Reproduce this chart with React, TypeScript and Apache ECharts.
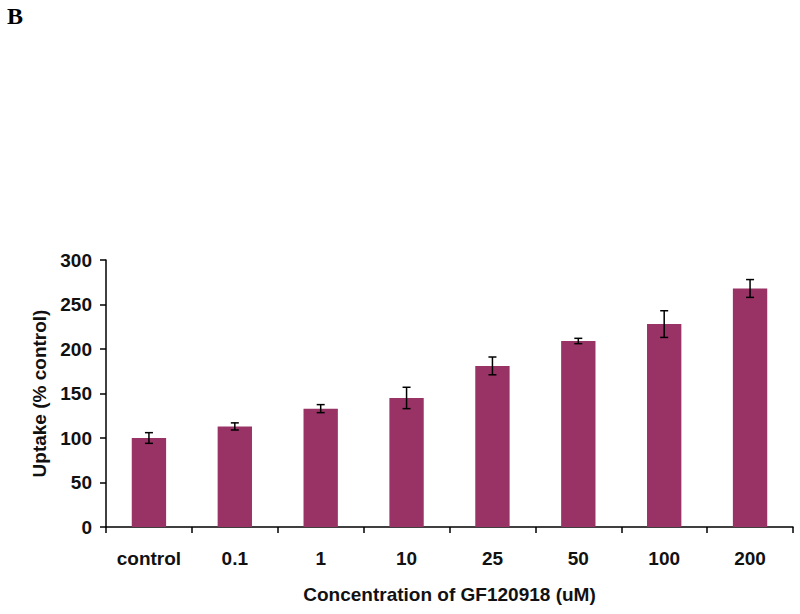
import React, { useEffect, useRef } from "react";
import * as echarts from "echarts";

const categories = ["control", "0.1", "1", "10", "25", "50", "100", "200"];
const uptake = [100, 113, 133, 145, 181, 209, 228, 268];
const errors = [6, 4, 4.5, 12, 10, 3, 15, 10];
const yTicks = { min: 0, max: 300, interval: 50 };

export default function App() {
  const ref = useRef<HTMLDivElement>(null);
  useEffect(() => {
    if (!ref.current) return;
    const chart = echarts.init(ref.current, null, { renderer: "svg" });
    const font = "'Liberation Sans', Arial, sans-serif";
    const txt = { fontFamily: font, fontWeight: "bold", fontSize: 19, color: "#111" };
    chart.setOption({
      animation: false,
      backgroundColor: "#ffffff",
      graphic: [
        {
          type: "text",
          left: 7,
          top: 4,
          style: { text: "B", font: "bold 24px 'Liberation Serif', 'Times New Roman', serif", fill: "#000" },
        },
      ],
      grid: { left: 106, right: 7, top: 260, bottom: 87, containLabel: false },
      xAxis: {
        type: "category",
        data: categories,
        name: "Concentration of GF120918 (uM)",
        nameLocation: "middle",
        nameGap: 58,
        nameTextStyle: txt,
        axisLine: { lineStyle: { color: "#000", width: 1.5 } },
        axisTick: { show: true, length: 6, lineStyle: { color: "#000", width: 1.5 } },
        axisLabel: { margin: 22, ...txt },
      },
      yAxis: {
        type: "value",
        min: yTicks.min,
        max: yTicks.max,
        interval: yTicks.interval,
        name: "Uptake (% control)",
        nameLocation: "middle",
        nameGap: 52,
        nameTextStyle: txt,
        axisLine: { show: true, lineStyle: { color: "#000", width: 1.5 } },
        axisTick: { show: true, length: 6, lineStyle: { color: "#000", width: 1.5 } },
        splitLine: { show: false },
        axisLabel: { margin: 14, ...txt },
      },
      series: [
        {
          type: "bar",
          data: uptake,
          barWidth: "40%",
          itemStyle: { color: "#993366" },
        },
        {
          type: "custom",
          data: uptake.map((v, i) => [i, v - errors[i], v + errors[i]]),
          z: 10,
          renderItem: (params: any, api: any) => {
            const x = api.value(0);
            const lo = api.coord([x, api.value(1)]);
            const hi = api.coord([x, api.value(2)]);
            const cap = 4;
            const style = { stroke: "#000", lineWidth: 1.5 };
            return {
              type: "group",
              children: [
                { type: "line", shape: { x1: lo[0], y1: lo[1], x2: hi[0], y2: hi[1] }, style },
                { type: "line", shape: { x1: hi[0] - cap, y1: hi[1], x2: hi[0] + cap, y2: hi[1] }, style },
                { type: "line", shape: { x1: lo[0] - cap, y1: lo[1], x2: lo[0] + cap, y2: lo[1] }, style },
              ],
            };
          },
        },
      ],
    });
    return () => chart.dispose();
  }, []);
  return <div ref={ref} style={{ width: 800, height: 614, position: "absolute", left: 0, top: 0 }} />;
}
